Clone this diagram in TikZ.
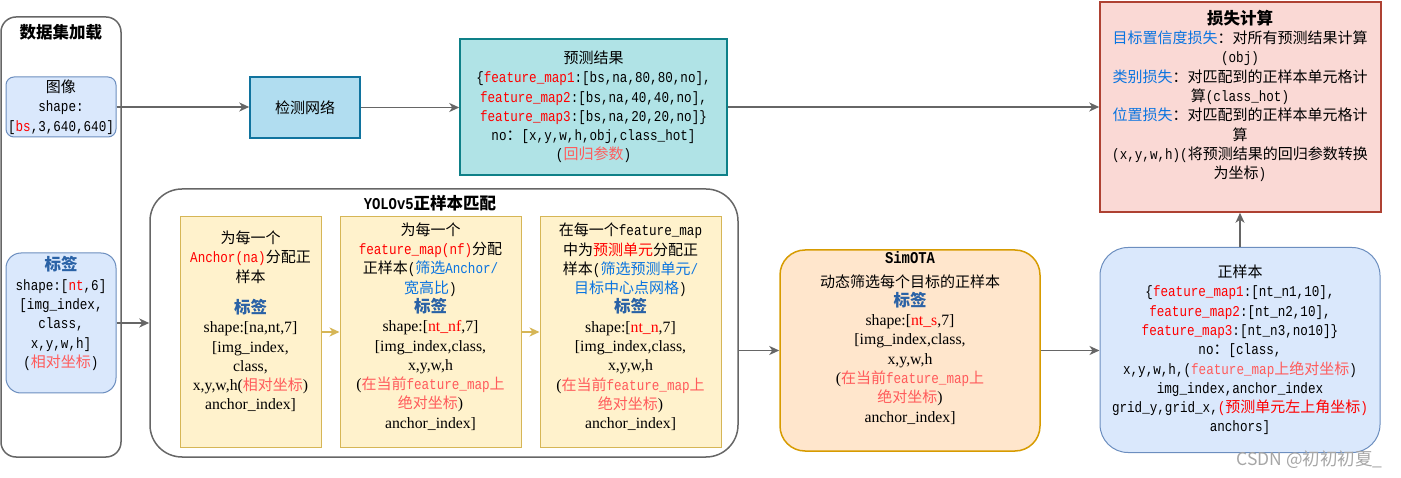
\documentclass[tikz,border=0pt]{standalone}
\usepackage{fontspec}
\setmainfont{Liberation Mono}[FakeStretch=0.84]
\newfontfamily\monofont{Liberation Mono}[FakeStretch=0.84]
\newfontfamily\cjkfont{Noto Sans CJK SC}
\newfontfamily\tmfont{Liberation Serif}[Scale=1.05]
\usetikzlibrary{arrows.meta,positioning}

% Chinese characters switch to the CJK font by themselves
\XeTeXinterchartokenstate=1
\chardef\cjkclass=10
\newcount\cjkcount
\newcommand{\cjkrange}[2]{\cjkcount=#1\relax
  \loop\XeTeXcharclass\cjkcount=\cjkclass
  \ifnum\cjkcount<#2\advance\cjkcount by 1\repeat}
\cjkrange{"3000}{"303F}
\cjkrange{"4E00}{"9FFF}
\cjkrange{"FF00}{"FFEF}
\XeTeXinterchartoks 0 \cjkclass = {\begingroup\cjkfont}
\XeTeXinterchartoks 1 \cjkclass = {\begingroup\cjkfont}
\XeTeXinterchartoks 2 \cjkclass = {\begingroup\cjkfont}
\XeTeXinterchartoks 3 \cjkclass = {\begingroup\cjkfont}
\XeTeXinterchartoks 4095 \cjkclass = {\begingroup\cjkfont}
\XeTeXinterchartoks \cjkclass 0 = {\endgroup}
\XeTeXinterchartoks \cjkclass 1 = {\endgroup}
\XeTeXinterchartoks \cjkclass 2 = {\endgroup}
\XeTeXinterchartoks \cjkclass 3 = {\endgroup}
\XeTeXinterchartoks \cjkclass 4095 = {\endgroup}

\definecolor{linegray}{HTML}{666666}
\definecolor{fred}{HTML}{FF0000}
\definecolor{lred}{HTML}{FF5B5B}
\definecolor{tipblue}{HTML}{0A74E0}
\definecolor{tagblue}{HTML}{2A62A6}
\definecolor{bluefill}{HTML}{DAE8FC}
\definecolor{bluestroke}{HTML}{6C8EBF}
\definecolor{netfill}{HTML}{B1DDF0}
\definecolor{netstroke}{HTML}{10739E}
\definecolor{predfill}{HTML}{B0E3E6}
\definecolor{predstroke}{HTML}{0E8088}
\definecolor{lossfill}{HTML}{FAD9D5}
\definecolor{lossstroke}{HTML}{AE4132}
\definecolor{yfill}{HTML}{FFF2CC}
\definecolor{ystroke}{HTML}{D6B656}
\definecolor{ofill}{HTML}{FFE6CC}
\definecolor{ostroke}{HTML}{D79B00}

\newcommand{\redtxt}[1]{\textcolor{fred}{#1}}
\newcommand{\pinktxt}[1]{\textcolor{lred}{#1}}
\newcommand{\bluetxt}[1]{\textcolor{tipblue}{#1}}
\newcommand{\timestxt}[1]{{\tmfont #1}}
\newcommand{\tagline}{{\fontsize{16.5}{19.3}\selectfont\bfseries\color{tagblue}标签}}

\tikzset{
  panel/.style={draw=linegray, line width=1.5pt, fill=white, rounded corners=#1, inner sep=0pt},
  bluebox/.style={draw=bluestroke, line width=1pt, fill=bluefill, inner sep=0pt, align=center},
  netbox/.style={draw=netstroke, line width=1.5pt, fill=netfill, inner sep=0pt},
  predbox/.style={draw=predstroke, line width=1.5pt, fill=predfill, inner sep=0pt, align=center},
  lossbox/.style={draw=lossstroke, line width=1.5pt, fill=lossfill, inner sep=0pt},
  ybox/.style={draw=ystroke, line width=1pt, fill=yfill, inner sep=0pt,
    minimum height=230pt},
  obox/.style={draw=ostroke, line width=1.5pt, fill=ofill, inner sep=0pt, rounded corners=25pt},
  txt/.style={align=center, inner sep=0pt},
  arr/.style={draw=linegray, line width=1.8pt, -{Stealth[length=10pt,width=9pt,inset=3pt]}},
  yarr/.style={arr, draw=ystroke}
}

\begin{document}
\begin{tikzpicture}[x=1pt,y=-1pt,
  every node/.style={font=\fontsize{15}{19.3}\selectfont}]
\useasboundingbox (0,0) rectangle (1401,478);

% data loading
\node[panel=15pt, minimum width=120pt, minimum height=440pt] (loadpanel) at (61,237) {};
\node[txt, font=\fontsize{16.5}{19.3}\selectfont\bfseries] (loadtitle) at (61,32) {数据集加载};
\node[bluebox, rounded corners=8pt, minimum width=110pt, minimum height=60pt] (imgbox) at (61,107)
  {图像\\shape:\\{}[\redtxt{bs},3,640,640]};
\node[bluebox, rounded corners=15pt, minimum width=110pt, minimum height=140pt] (labelbox) at (61,323) {};
\node[txt] (labeltxt) at (61,313.5)
  {\tagline\\shape:[\redtxt{nt},6]\\{}[img\_index,\\class,\\x,y,w,h]\\(\pinktxt{相对坐标})};

% network and prediction
\node[netbox, minimum width=110pt, minimum height=61pt] (netbox) at (305,107.5) {检测网络};
\node[predbox, minimum width=267pt, minimum height=136pt] (predbox) at (593.5,107)
  {预测结果\\\{\redtxt{feature\_map1}:[bs,na,80,80,no],\\\redtxt{feature\_map2}:[bs,na,40,40,no],\\\redtxt{feature\_map3}:[bs,na,20,20,no]\}\\no：[x,y,w,h,obj,class\_hot]\\(\pinktxt{回归参数})};

% loss
\node[lossbox, minimum width=281pt, minimum height=210pt] (lossbox) at (1240.5,107) {};
\node[txt] (losstxt) at (1240,96)
  {{\fontsize{16.5}{19.3}\selectfont\bfseries 损失计算}\\\bluetxt{目标置信度损失}：对所有预测结果计算\\(obj)\\\bluetxt{类别损失}：对匹配到的正样本单元格计\\算(class\_hot)\\\bluetxt{位置损失}：对匹配到的正样本单元格计\\算\\(x,y,w,h)(将预测结果的回归参数转换\\为坐标)};

% YOLOv5 matching
\node[panel=32pt, minimum width=588pt, minimum height=268pt] (yolobox) at (444,323) {};
\node[txt, font=\fontsize{16.5}{19.3}\selectfont\bfseries] (yolotitle) at (430,203) {YOLOv5正样本匹配};

\node[ybox, minimum width=141pt] (anchorbox) at (250.5,332) {};
\node[txt] (anchortxt) at (250.5,321.5)
  {为每一个\\\redtxt{Anchor(na)}分配正\\样本\\[12pt]\tagline\\\timestxt{shape:[na,nt,7]}\\\timestxt{[img\_index,}\\\timestxt{class,}\\\timestxt{x,y,w,h(}\pinktxt{相对坐标}\timestxt{)}\\\timestxt{anchor\_index]}};

\node[ybox, minimum width=181pt] (fmapbox) at (430.5,332) {};
\node[txt] (fmaptxt) at (430.5,326.5)
  {为每一个\\\redtxt{feature\_map(nf)}分配\\正样本(\bluetxt{筛选Anchor/}\\\bluetxt{宽高比})\\\tagline\\\timestxt{shape:[\redtxt{nt\_nf},7]}\\\timestxt{[img\_index,class,}\\\timestxt{x,y,w,h}\\\timestxt{(}\pinktxt{在当前feature\_map上}\\\pinktxt{绝对坐标}\timestxt{)}\\\timestxt{anchor\_index]}};

\node[ybox, minimum width=181pt] (gridbox) at (630.5,332) {};
\node[txt] (gridtxt) at (630.5,327)
  {在每一个feature\_map\\中为\redtxt{预测单元}分配正\\样本(\bluetxt{筛选预测单元/}\\\bluetxt{目标中心点网格})\\\tagline\\\timestxt{shape:[\redtxt{nt\_n},7]}\\\timestxt{[img\_index,class,}\\\timestxt{x,y,w,h}\\\timestxt{(}\pinktxt{在当前feature\_map上}\\\pinktxt{绝对坐标}\timestxt{)}\\\timestxt{anchor\_index]}};

% SimOTA
\node[obox, minimum width=260pt, minimum height=201pt] (simota) at (910,350.5) {};
\node[txt] (simotatxt) at (910,338)
  {{\fontsize{16.5}{19.3}\selectfont\bfseries SimOTA}\\[4pt]动态筛选每个目标的正样本\\\tagline\\\timestxt{shape:[\redtxt{nt\_s},7]}\\\timestxt{[img\_index,class,}\\\timestxt{x,y,w,h}\\\timestxt{(}\pinktxt{在当前feature\_map上}\\\pinktxt{绝对坐标}\timestxt{)}\\\timestxt{anchor\_index]}};

% positive samples
\node[bluebox, rounded corners=28pt, minimum width=280pt, minimum height=205pt] (posbox) at (1240,350)
  {正样本\\\{\redtxt{feature\_map1}:[nt\_n1,10],\\\redtxt{feature\_map2}:[nt\_n2,10],\\\redtxt{feature\_map3}:[nt\_n3,no10]\}\\no：[class,\\x,y,w,h,(\pinktxt{feature\_map上绝对坐标})\\img\_index,anchor\_index\\grid\_y,grid\_x,\redtxt{(预测单元左上角坐标)}\\anchors]};

\node[anchor=east, text=black!35, font=\fontsize{17.5}{20}\selectfont\cjkfont] (mark) at (1386,460) {CSDN @初初初夏\_};

% connectors
\draw[arr] (imgbox.east) -- (imgbox.east -| netbox.west);
\draw[arr] (netbox.east) -- (netbox.east -| predbox.west);
\draw[arr] (predbox.east) -- (predbox.east -| lossbox.west);
\draw[arr] (labelbox.east) -- (labelbox.east -| yolobox.west);
\draw[yarr] (anchorbox.east) -- (fmapbox.west);
\draw[yarr] (fmapbox.east) -- (gridbox.west);
\draw[arr] (simota.west -| yolobox.east) -- (simota.west);
\draw[arr] (simota.east) -- (simota.east -| posbox.west);
\draw[arr] (posbox.north) -- (posbox.north |- lossbox.south);
\end{tikzpicture}
\end{document}
